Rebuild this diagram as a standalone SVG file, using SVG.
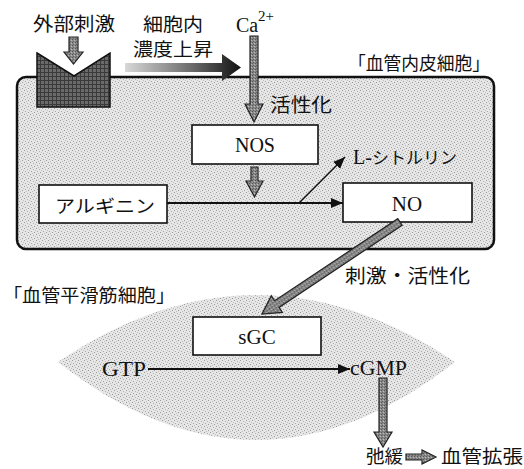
<svg xmlns="http://www.w3.org/2000/svg" width="524" height="469" viewBox="0 0 524 469">
<style>
.jp{font-family:"Noto Sans CJK JP","Noto Sans CJK SC",sans-serif;fill:#111}
.lt{font-family:"Liberation Serif","Times New Roman",serif;fill:#111}
.box{fill:#fff;stroke:#111;stroke-width:1.6}
.garrow{fill:url(#mid);stroke:#222;stroke-width:1.2}
.line{stroke:#111;fill:none}
</style>
<defs>
<pattern id="stip" width="6" height="6" patternUnits="userSpaceOnUse">
<rect width="6" height="6" fill="#e6e6e6"/>
<rect x="0" y="0" width="1" height="1" fill="#9a9a9a"/>
<rect x="3" y="1" width="1" height="1" fill="#b0b0b0"/>
<rect x="1" y="3" width="1" height="1" fill="#a5a5a5"/>
<rect x="4" y="4" width="1" height="1" fill="#999"/>
<rect x="5" y="2" width="1" height="1" fill="#c0c0c0"/>
<rect x="2" y="5" width="1" height="1" fill="#bbb"/>
</pattern>
<pattern id="mid" width="3" height="3" patternUnits="userSpaceOnUse">
<rect width="3" height="3" fill="#8a8a8a"/>
<rect x="0" y="0" width="1" height="1" fill="#555"/>
<rect x="2" y="1" width="1" height="1" fill="#bbb"/>
<rect x="1" y="2" width="1" height="1" fill="#666"/>
</pattern>
<pattern id="hatch" width="4" height="4" patternUnits="userSpaceOnUse">
<rect width="4" height="4" fill="#6a6a6a"/>
<rect x="0" y="0" width="4" height="1" fill="#3a3a3a"/>
<rect x="0" y="0" width="1" height="4" fill="#3a3a3a"/>
</pattern>
<linearGradient id="grad" x1="0" y1="0" x2="1" y2="0">
<stop offset="0" stop-color="#d8d8d8"/>
<stop offset="0.6" stop-color="#666"/>
<stop offset="1" stop-color="#111"/>
</linearGradient>
<marker id="ah" viewBox="0 0 12 10" refX="12" refY="5" markerWidth="12" markerHeight="10" markerUnits="userSpaceOnUse" orient="auto">
<path d="M0,0 L12,5 L0,10 Z" fill="#111"/>
</marker>
</defs>

<g id="endothelial-cell">
<rect x="17" y="77" width="477" height="172" rx="9" fill="url(#stip)" stroke="#111" stroke-width="2.5"/>
<text class="jp" x="348" y="70" font-size="18" textLength="142" lengthAdjust="spacingAndGlyphs">「血管内皮細胞」</text>
</g>

<g id="smooth-muscle-cell">
<path d="M58,362 Q256,228 455,362 Q256,518 58,362 Z" fill="url(#stip)"/>
<text class="jp" x="3" y="302" font-size="18" textLength="172" lengthAdjust="spacingAndGlyphs">「血管平滑筋細胞」</text>
</g>

<g id="receptor">
<polygon points="37,53 74,76 110,53 110,107 37,107" fill="url(#hatch)" stroke="#111" stroke-width="1.5"/>
</g>

<g id="stimulus">
<text class="jp" x="33" y="31" font-size="19" textLength="82" lengthAdjust="spacingAndGlyphs">外部刺激</text>
</g>

<g id="calcium">
<text class="jp" x="143" y="31" font-size="18" textLength="60" lengthAdjust="spacingAndGlyphs">細胞内</text>
<text class="jp" x="133" y="56" font-size="18" textLength="80" lengthAdjust="spacingAndGlyphs">濃度上昇</text>
<text class="lt" x="236" y="32" font-size="20">Ca</text>
<text class="lt" x="258" y="21" font-size="15">2+</text>
</g>

<g id="activation-label">
<text class="jp" x="270" y="112" font-size="19" textLength="62" lengthAdjust="spacingAndGlyphs">活性化</text>
</g>

<g id="nos">
<rect class="box" x="192" y="125" width="126" height="39"/>
<text class="lt" x="255" y="152" font-size="20" text-anchor="middle">NOS</text>
</g>

<g id="arginine">
<rect class="box" x="39" y="185" width="128" height="38"/>
<text class="jp" x="55" y="213" font-size="18" textLength="100" lengthAdjust="spacingAndGlyphs">アルギニン</text>
</g>

<g id="citrulline">
<text x="353" y="164"><tspan class="lt" font-size="20">L-</tspan><tspan class="jp" font-size="17">シトルリン</tspan></text>
</g>

<g id="no">
<rect class="box" x="343" y="183" width="129" height="39"/>
<text class="lt" x="407" y="211" font-size="21" text-anchor="middle">NO</text>
</g>

<g id="stim-label">
<text class="jp" x="345" y="283" font-size="19" textLength="125" lengthAdjust="spacingAndGlyphs">刺激・活性化</text>
</g>

<g id="sgc">
<rect class="box" x="193" y="317" width="128" height="38"/>
<text class="lt" x="257" y="344" font-size="21" text-anchor="middle">sGC</text>
</g>

<g id="gtp">
<text class="lt" x="102" y="376" font-size="21" textLength="44" lengthAdjust="spacingAndGlyphs">GTP</text>
</g>

<g id="cgmp">
<text class="lt" x="350" y="375" font-size="21" textLength="57" lengthAdjust="spacingAndGlyphs">cGMP</text>
</g>

<g id="relaxation">
<text class="jp" x="366" y="463" font-size="18" textLength="37" lengthAdjust="spacingAndGlyphs">弛緩</text>
</g>

<g id="vasodilation">
<text class="jp" x="441" y="463" font-size="18" textLength="82" lengthAdjust="spacingAndGlyphs">血管拡張</text>
</g>

<g id="connectors">
<polygon class="garrow" points="69,37 78,37 78,52 83,52 73.5,64 64,52 69,52"/>
<polygon points="125,63 222,63 222,54 241,67.5 222,81 222,72 125,72" fill="url(#grad)"/>
<polygon class="garrow" points="250,36 258,36 258,104 263,104 254,122 245,104 250,104"/>
<polygon class="garrow" points="251,167 258,167 258,181 263,181 254.5,197 246,181 251,181"/>
<line class="line" x1="167" y1="203" x2="343" y2="203" stroke-width="2.2" marker-end="url(#ah)"/>
<line class="line" x1="299" y1="203" x2="345" y2="157" stroke-width="1.4" marker-end="url(#ah)"/>
<polygon class="garrow" transform="translate(400,222) rotate(146.3)" points="0,-4 148,-4 148,-10 166,0 148,10 148,4 0,4"/>
<line class="line" x1="148" y1="369" x2="350" y2="369" stroke-width="2.2" marker-end="url(#ah)"/>
<polygon class="garrow" points="379,378 387,378 387,432 392,432 383,447 374,432 379,432"/>
<polygon class="garrow" points="406,454 422,454 422,450 436,457 422,464 422,460 406,460"/>
</g>
</svg>
